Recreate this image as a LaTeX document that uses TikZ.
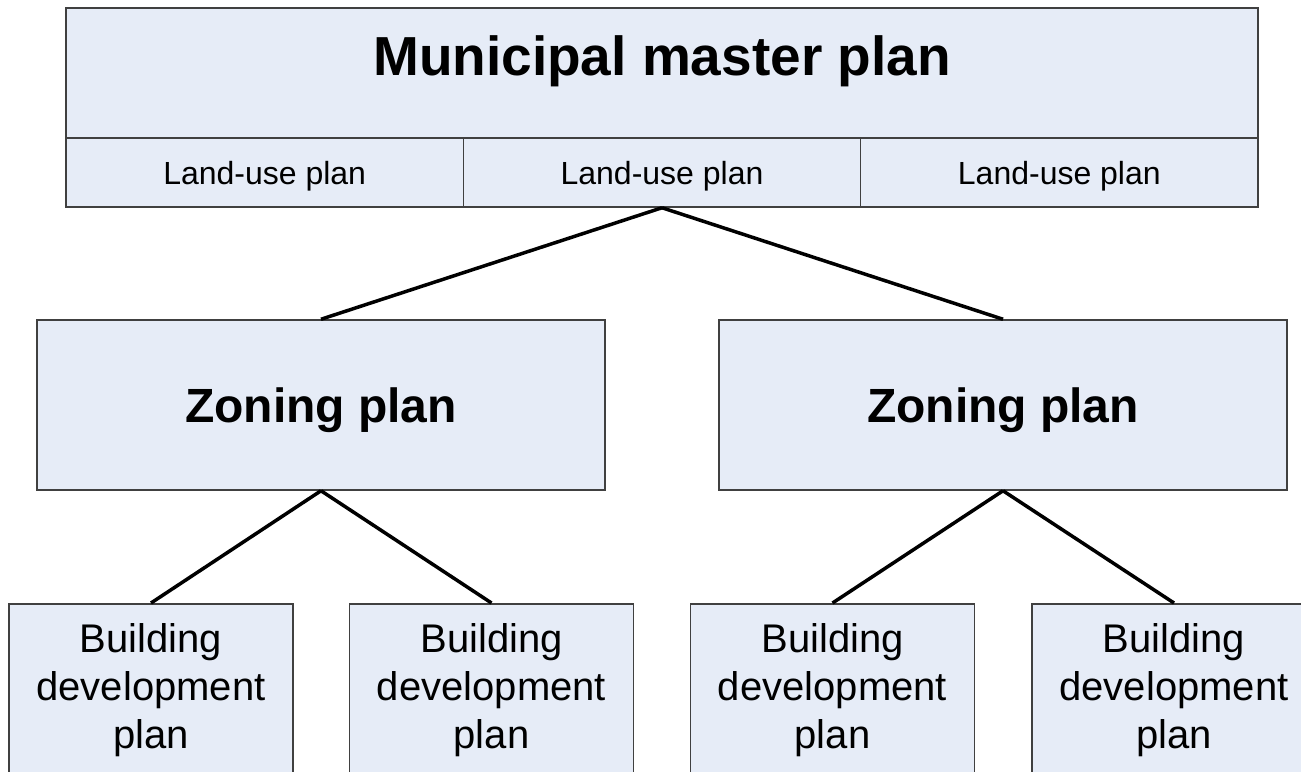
\documentclass[tikz,border=0pt]{standalone}
\usepackage{fontspec}
\setmainfont{Liberation Sans}
\definecolor{planfill}{RGB}{230,236,247}
\definecolor{planedge}{RGB}{64,64,64}
\tikzstyle{plan} = [draw=planedge,fill=planfill,line width=1.5pt,inner sep=0pt,rectangle]
\tikzstyle{master} = [plan,minimum width=1192pt,anchor=base,text height=67pt,text depth=63pt,font=\fontsize{55}{64}\selectfont\bfseries]
\tikzstyle{landuse} = [plan,minimum width=397.33pt,anchor=base,text height=46pt,text depth=23pt,font=\fontsize{32}{38}\selectfont]
\tikzstyle{zoning} = [plan,minimum width=568pt,anchor=base,text height=102pt,text depth=68pt,font=\fontsize{48}{58}\selectfont\bfseries]
\tikzstyle{building} = [plan,minimum width=284pt,minimum height=172pt,anchor=north,align=center,font=\fontsize{40}{48}\selectfont]
\tikzstyle{every edge} = [draw,line width=3.5pt]
\begin{document}
\begin{tikzpicture}[x=1pt,y=-1pt]
\useasboundingbox (0,0) rectangle (1301,771);

\node[master] (mmp) at (662,75) {Municipal master plan};
\node[landuse] (lu1) at (264.67,184) {Land-use plan};
\node[landuse] (lu2) at (662,184) {Land-use plan};
\node[landuse] (lu3) at (1059.33,184) {Land-use plan};

\node[zoning] (zp1) at (321,422) {Zoning plan};
\node[zoning] (zp2) at (1003,422) {Zoning plan};

\node[building] (bdp1) at (151,603) {Building\\development\\plan};
\node[building] (bdp2) at (491.5,603) {Building\\development\\plan};
\node[building] (bdp3) at (832.5,603) {Building\\development\\plan};
\node[building] (bdp4) at (1174,603) {Building\\development\\plan};

\draw (lu2.south) edge (zp1.north);
\draw (lu2.south) edge (zp2.north);
\draw (zp1.south) edge (bdp1.north);
\draw (zp1.south) edge (bdp2.north);
\draw (zp2.south) edge (bdp3.north);
\draw (zp2.south) edge (bdp4.north);

\end{tikzpicture}
\end{document}
